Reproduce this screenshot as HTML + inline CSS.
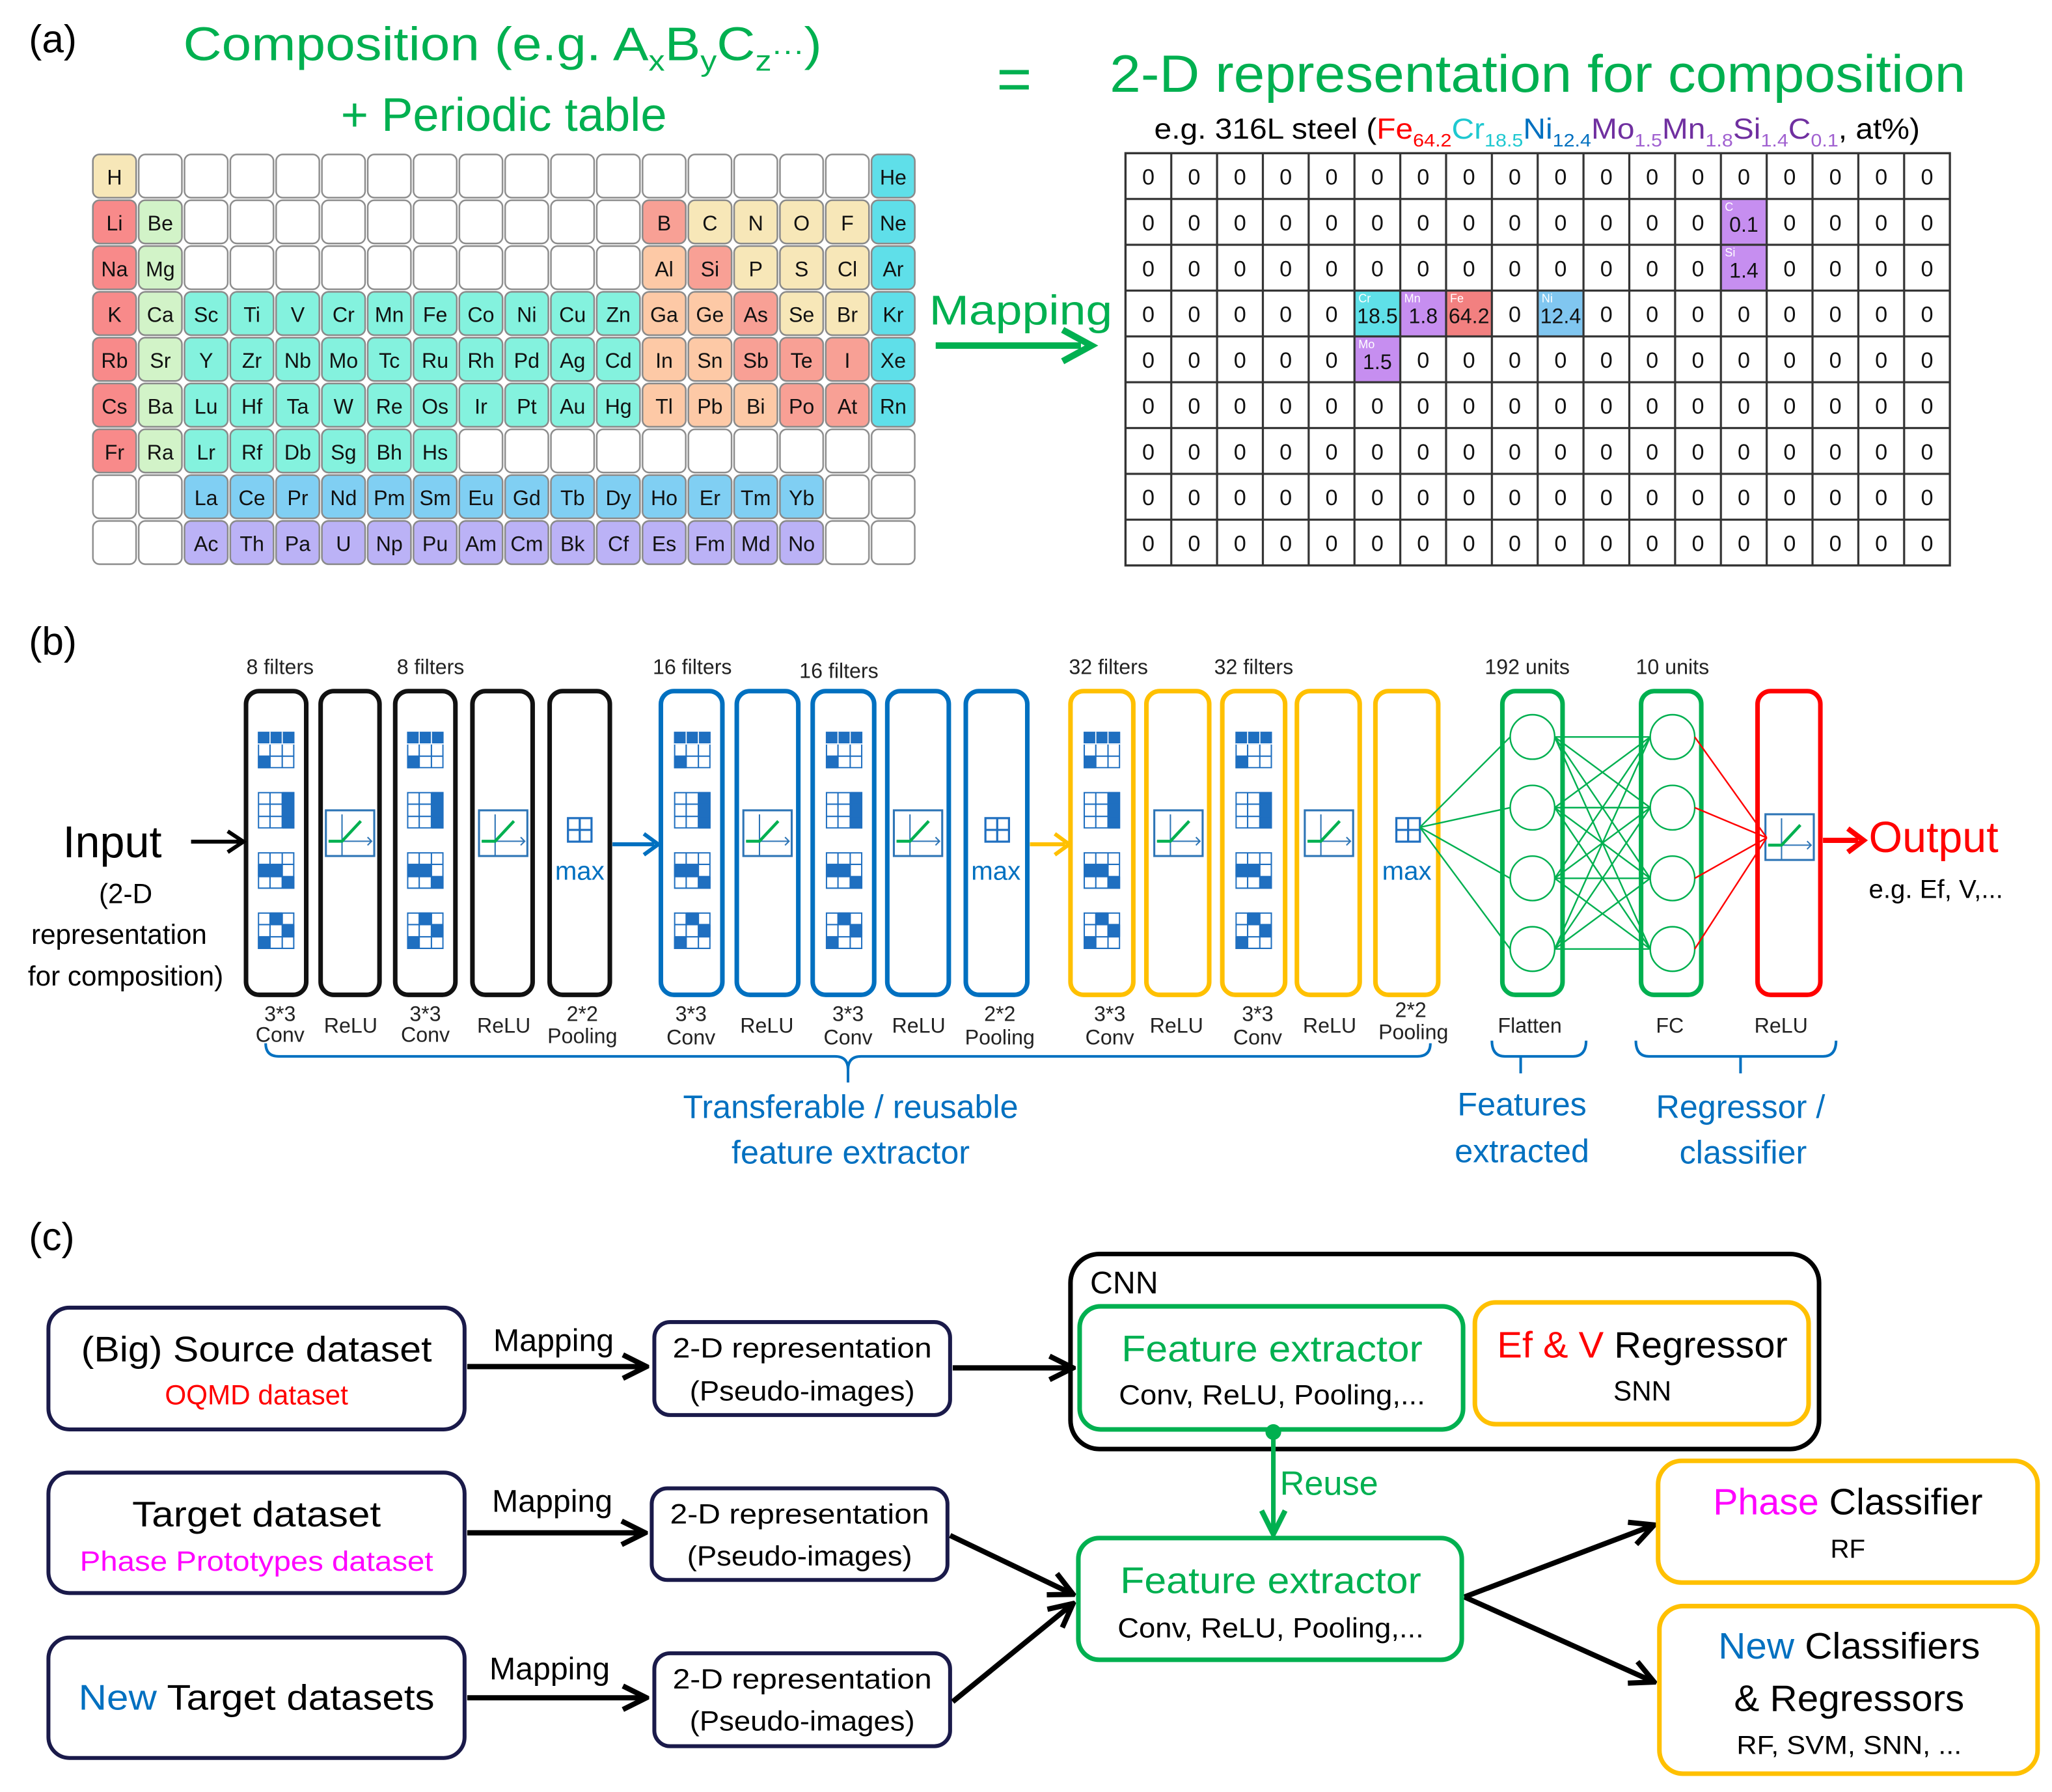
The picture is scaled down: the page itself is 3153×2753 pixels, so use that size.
<!DOCTYPE html>
<html><head><meta charset="utf-8"><style>
html,body{margin:0;padding:0;background:#fff;}
svg{display:block;}
text{font-family:"Liberation Sans",sans-serif;}
</style></head><body>
<svg width="3153" height="2753" viewBox="0 0 1568 1369" preserveAspectRatio="none" xmlns="http://www.w3.org/2000/svg">
<defs>
<pattern id="pc" width="35" height="35" patternUnits="userSpaceOnUse" x="70" y="117"><rect x="1" y="1" width="33" height="33" rx="5" fill="#fff" stroke="#8a8a8a" stroke-width="1.2"/></pattern>
<pattern id="gc" width="35" height="35" patternUnits="userSpaceOnUse" x="860" y="117"><rect x="0" y="0" width="35" height="35" fill="none" stroke="#333" stroke-width="1.6"/></pattern>
<symbol id="f1" viewBox="0 0 27 27"><rect x="0" y="0" width="27" height="9" fill="#1f6fc0"/><rect x="0" y="18" width="9" height="9" fill="#1f6fc0"/><path d="M0.5 0.5H26.5V26.5H0.5Z M9 0V27 M18 0V27 M0 9H27 M0 18H27" fill="none" stroke="#1f6fc0" stroke-width="1"/><path d="M9 0V9 M18 0V9 M0 9H27" stroke="#fff" stroke-width="0.8"/></symbol>
<symbol id="f2" viewBox="0 0 27 27"><rect x="18" y="0" width="9" height="27" fill="#1f6fc0"/><path d="M0.5 0.5H26.5V26.5H0.5Z M9 0V27 M18 0V27 M0 9H27 M0 18H27" fill="none" stroke="#1f6fc0" stroke-width="1"/></symbol>
<symbol id="f3" viewBox="0 0 27 27"><rect x="0" y="9" width="18" height="9" fill="#1f6fc0"/><rect x="18" y="18" width="9" height="9" fill="#1f6fc0"/><path d="M0.5 0.5H26.5V26.5H0.5Z M9 0V27 M18 0V27 M0 9H27 M0 18H27" fill="none" stroke="#1f6fc0" stroke-width="1"/></symbol>
<symbol id="f4" viewBox="0 0 27 27"><rect x="9" y="0" width="9" height="9" fill="#1f6fc0"/><rect x="18" y="9" width="9" height="9" fill="#1f6fc0"/><rect x="0" y="18" width="9" height="9" fill="#1f6fc0"/><path d="M0.5 0.5H26.5V26.5H0.5Z M9 0V27 M18 0V27 M0 9H27 M0 18H27" fill="none" stroke="#1f6fc0" stroke-width="1"/></symbol>
<symbol id="relu" viewBox="0 0 38 36"><rect x="1" y="1" width="36" height="34" fill="#fff" stroke="#2e75b6" stroke-width="1.5"/><path d="M13 4V35 M3 24H35 M32 21L35 24L32 27" fill="none" stroke="#2e75b6" stroke-width="1"/><path d="M3 24H13L27 9" fill="none" stroke="#00b050" stroke-width="2.2"/></symbol>
<symbol id="pool" viewBox="0 0 20 20"><path d="M1 1H19V19H1Z M10 1V19 M1 10H19" fill="none" stroke="#1f6fc0" stroke-width="1.6"/></symbol>
<marker id="ab" markerWidth="10" markerHeight="10" refX="9" refY="5" orient="auto" markerUnits="userSpaceOnUse" viewBox="0 0 10 10"><path d="M1 1L9 5L1 9" fill="none" stroke="#000" stroke-width="2"/></marker>
<marker id="ak" markerWidth="22" markerHeight="22" refX="20" refY="11" orient="auto" markerUnits="userSpaceOnUse" viewBox="0 0 22 22"><path d="M2 2L20 11L2 20" fill="none" stroke="#000" stroke-width="4"/></marker>
<marker id="ag" markerWidth="22" markerHeight="22" refX="20" refY="11" orient="auto" markerUnits="userSpaceOnUse" viewBox="0 0 22 22"><path d="M2 2L20 11L2 20" fill="none" stroke="#00b050" stroke-width="4"/></marker>
</defs>

<!-- ===== (a) ===== -->
<text x="22" y="40" font-size="30">(a)</text>
<text x="140" y="46" font-size="36" fill="#00b050" textLength="488" lengthAdjust="spacingAndGlyphs">Composition (e.g. A<tspan font-size="22" dy="8">x</tspan><tspan dy="-8">B</tspan><tspan font-size="22" dy="8">y</tspan><tspan dy="-8">C</tspan><tspan font-size="22" dy="8">z</tspan><tspan dy="-8" font-size="22">···</tspan>)</text>
<text x="385" y="100" font-size="36" fill="#00b050" text-anchor="middle">+ Periodic table</text>
<text x="775" y="76" font-size="46" fill="#00b050" text-anchor="middle">=</text>
<text x="848" y="70" font-size="40" fill="#00b050" textLength="654" lengthAdjust="spacingAndGlyphs">2-D representation for composition</text>
<text x="882" y="106" font-size="22" textLength="585" lengthAdjust="spacingAndGlyphs">e.g. 316L steel (<tspan fill="#ff0000">Fe</tspan><tspan fill="#ff0000" font-size="14" dy="6">64.2</tspan><tspan fill="#1ec8d0" dy="-6">Cr</tspan><tspan fill="#1ec8d0" font-size="14" dy="6">18.5</tspan><tspan fill="#0070c0" dy="-6">Ni</tspan><tspan fill="#0070c0" font-size="14" dy="6">12.4</tspan><tspan fill="#7030a0" dy="-6">Mo</tspan><tspan fill="#a060d0" font-size="14" dy="6">1.5</tspan><tspan fill="#7030a0" dy="-6">Mn</tspan><tspan fill="#a060d0" font-size="14" dy="6">1.8</tspan><tspan fill="#7030a0" dy="-6">Si</tspan><tspan fill="#a060d0" font-size="14" dy="6">1.4</tspan><tspan fill="#7030a0" dy="-6">C</tspan><tspan fill="#a060d0" font-size="14" dy="6">0.1</tspan><tspan dy="-6">, at%)</tspan></text>

<!-- periodic table -->
<rect x="70" y="117" width="630" height="315" fill="url(#pc)"/>
<g stroke="#8a8a8a" stroke-width="1.2">
<!-- beige -->
<g fill="#f7e7b8"><rect x="71" y="118" width="33" height="33" rx="5"/><rect x="526" y="153" width="33" height="33" rx="5"/><rect x="561" y="153" width="33" height="33" rx="5"/><rect x="596" y="153" width="33" height="33" rx="5"/><rect x="631" y="153" width="33" height="33" rx="5"/><rect x="561" y="188" width="33" height="33" rx="5"/><rect x="596" y="188" width="33" height="33" rx="5"/><rect x="631" y="188" width="33" height="33" rx="5"/><rect x="596" y="223" width="33" height="33" rx="5"/><rect x="631" y="223" width="33" height="33" rx="5"/></g>
<!-- noble -->
<g fill="#5fdfe9"><rect x="666" y="118" width="33" height="33" rx="5"/><rect x="666" y="153" width="33" height="33" rx="5"/><rect x="666" y="188" width="33" height="33" rx="5"/><rect x="666" y="223" width="33" height="33" rx="5"/><rect x="666" y="258" width="33" height="33" rx="5"/><rect x="666" y="293" width="33" height="33" rx="5"/></g>
<!-- alkali -->
<g fill="#f88a8a"><rect x="71" y="153" width="33" height="33" rx="5"/><rect x="71" y="188" width="33" height="33" rx="5"/><rect x="71" y="223" width="33" height="33" rx="5"/><rect x="71" y="258" width="33" height="33" rx="5"/><rect x="71" y="293" width="33" height="33" rx="5"/><rect x="71" y="328" width="33" height="33" rx="5"/></g>
<!-- alkaline earth -->
<g fill="#d2f3c8"><rect x="106" y="153" width="33" height="33" rx="5"/><rect x="106" y="188" width="33" height="33" rx="5"/><rect x="106" y="223" width="33" height="33" rx="5"/><rect x="106" y="258" width="33" height="33" rx="5"/><rect x="106" y="293" width="33" height="33" rx="5"/><rect x="106" y="328" width="33" height="33" rx="5"/></g>
<!-- salmon -->
<g fill="#f8a095"><rect x="491" y="153" width="33" height="33" rx="5"/><rect x="526" y="188" width="33" height="33" rx="5"/><rect x="561" y="223" width="33" height="33" rx="5"/><rect x="561" y="258" width="33" height="33" rx="5"/><rect x="596" y="258" width="33" height="33" rx="5"/><rect x="631" y="258" width="33" height="33" rx="5"/><rect x="596" y="293" width="33" height="33" rx="5"/><rect x="631" y="293" width="33" height="33" rx="5"/></g>
<!-- peach -->
<g fill="#fdc9a6"><rect x="491" y="188" width="33" height="33" rx="5"/><rect x="491" y="223" width="33" height="33" rx="5"/><rect x="526" y="223" width="33" height="33" rx="5"/><rect x="491" y="258" width="33" height="33" rx="5"/><rect x="526" y="258" width="33" height="33" rx="5"/><rect x="491" y="293" width="33" height="33" rx="5"/><rect x="526" y="293" width="33" height="33" rx="5"/><rect x="561" y="293" width="33" height="33" rx="5"/></g>
</g>
<!-- transition rows -->
<g fill="#84f2de" stroke="#8a8a8a" stroke-width="1.2">
<rect x="141" y="223" width="348" height="33" rx="5" fill="none" stroke="none"/>
</g>
<g stroke="#8a8a8a" stroke-width="1.2" fill="#84f2de">
<rect x="141" y="223" width="33" height="33" rx="5"/><rect x="176" y="223" width="33" height="33" rx="5"/><rect x="211" y="223" width="33" height="33" rx="5"/><rect x="246" y="223" width="33" height="33" rx="5"/><rect x="281" y="223" width="33" height="33" rx="5"/><rect x="316" y="223" width="33" height="33" rx="5"/><rect x="351" y="223" width="33" height="33" rx="5"/><rect x="386" y="223" width="33" height="33" rx="5"/><rect x="421" y="223" width="33" height="33" rx="5"/><rect x="456" y="223" width="33" height="33" rx="5"/>
<rect x="141" y="258" width="33" height="33" rx="5"/><rect x="176" y="258" width="33" height="33" rx="5"/><rect x="211" y="258" width="33" height="33" rx="5"/><rect x="246" y="258" width="33" height="33" rx="5"/><rect x="281" y="258" width="33" height="33" rx="5"/><rect x="316" y="258" width="33" height="33" rx="5"/><rect x="351" y="258" width="33" height="33" rx="5"/><rect x="386" y="258" width="33" height="33" rx="5"/><rect x="421" y="258" width="33" height="33" rx="5"/><rect x="456" y="258" width="33" height="33" rx="5"/>
<rect x="141" y="293" width="33" height="33" rx="5"/><rect x="176" y="293" width="33" height="33" rx="5"/><rect x="211" y="293" width="33" height="33" rx="5"/><rect x="246" y="293" width="33" height="33" rx="5"/><rect x="281" y="293" width="33" height="33" rx="5"/><rect x="316" y="293" width="33" height="33" rx="5"/><rect x="351" y="293" width="33" height="33" rx="5"/><rect x="386" y="293" width="33" height="33" rx="5"/><rect x="421" y="293" width="33" height="33" rx="5"/><rect x="456" y="293" width="33" height="33" rx="5"/>
<rect x="141" y="328" width="33" height="33" rx="5"/><rect x="176" y="328" width="33" height="33" rx="5"/><rect x="211" y="328" width="33" height="33" rx="5"/><rect x="246" y="328" width="33" height="33" rx="5"/><rect x="281" y="328" width="33" height="33" rx="5"/><rect x="316" y="328" width="33" height="33" rx="5"/>
</g>
<g stroke="#8a8a8a" stroke-width="1.2" fill="#80cff3">
<rect x="141" y="363" width="33" height="33" rx="5"/><rect x="176" y="363" width="33" height="33" rx="5"/><rect x="211" y="363" width="33" height="33" rx="5"/><rect x="246" y="363" width="33" height="33" rx="5"/><rect x="281" y="363" width="33" height="33" rx="5"/><rect x="316" y="363" width="33" height="33" rx="5"/><rect x="351" y="363" width="33" height="33" rx="5"/><rect x="386" y="363" width="33" height="33" rx="5"/><rect x="421" y="363" width="33" height="33" rx="5"/><rect x="456" y="363" width="33" height="33" rx="5"/><rect x="491" y="363" width="33" height="33" rx="5"/><rect x="526" y="363" width="33" height="33" rx="5"/><rect x="561" y="363" width="33" height="33" rx="5"/><rect x="596" y="363" width="33" height="33" rx="5"/>
</g>
<g stroke="#8a8a8a" stroke-width="1.2" fill="#bbb2f6">
<rect x="141" y="398" width="33" height="33" rx="5"/><rect x="176" y="398" width="33" height="33" rx="5"/><rect x="211" y="398" width="33" height="33" rx="5"/><rect x="246" y="398" width="33" height="33" rx="5"/><rect x="281" y="398" width="33" height="33" rx="5"/><rect x="316" y="398" width="33" height="33" rx="5"/><rect x="351" y="398" width="33" height="33" rx="5"/><rect x="386" y="398" width="33" height="33" rx="5"/><rect x="421" y="398" width="33" height="33" rx="5"/><rect x="456" y="398" width="33" height="33" rx="5"/><rect x="491" y="398" width="33" height="33" rx="5"/><rect x="526" y="398" width="33" height="33" rx="5"/><rect x="561" y="398" width="33" height="33" rx="5"/><rect x="596" y="398" width="33" height="33" rx="5"/>
</g>
<g font-size="16" text-anchor="middle" fill="#111">
<text x="87.5" y="141">H</text><text x="682.5" y="141">He</text>
<text x="87.5" y="176">Li</text><text x="122.5" y="176">Be</text><text x="507.5" y="176">B</text><text x="542.5" y="176">C</text><text x="577.5" y="176">N</text><text x="612.5" y="176">O</text><text x="647.5" y="176">F</text><text x="682.5" y="176">Ne</text>
<text x="87.5" y="211">Na</text><text x="122.5" y="211">Mg</text><text x="507.5" y="211">Al</text><text x="542.5" y="211">Si</text><text x="577.5" y="211">P</text><text x="612.5" y="211">S</text><text x="647.5" y="211">Cl</text><text x="682.5" y="211">Ar</text>
<text x="87.5" y="246">K</text><text x="122.5" y="246">Ca</text><text x="157.5" y="246">Sc</text><text x="192.5" y="246">Ti</text><text x="227.5" y="246">V</text><text x="262.5" y="246">Cr</text><text x="297.5" y="246">Mn</text><text x="332.5" y="246">Fe</text><text x="367.5" y="246">Co</text><text x="402.5" y="246">Ni</text><text x="437.5" y="246">Cu</text><text x="472.5" y="246">Zn</text><text x="507.5" y="246">Ga</text><text x="542.5" y="246">Ge</text><text x="577.5" y="246">As</text><text x="612.5" y="246">Se</text><text x="647.5" y="246">Br</text><text x="682.5" y="246">Kr</text>
<text x="87.5" y="281">Rb</text><text x="122.5" y="281">Sr</text><text x="157.5" y="281">Y</text><text x="192.5" y="281">Zr</text><text x="227.5" y="281">Nb</text><text x="262.5" y="281">Mo</text><text x="297.5" y="281">Tc</text><text x="332.5" y="281">Ru</text><text x="367.5" y="281">Rh</text><text x="402.5" y="281">Pd</text><text x="437.5" y="281">Ag</text><text x="472.5" y="281">Cd</text><text x="507.5" y="281">In</text><text x="542.5" y="281">Sn</text><text x="577.5" y="281">Sb</text><text x="612.5" y="281">Te</text><text x="647.5" y="281">I</text><text x="682.5" y="281">Xe</text>
<text x="87.5" y="316">Cs</text><text x="122.5" y="316">Ba</text><text x="157.5" y="316">Lu</text><text x="192.5" y="316">Hf</text><text x="227.5" y="316">Ta</text><text x="262.5" y="316">W</text><text x="297.5" y="316">Re</text><text x="332.5" y="316">Os</text><text x="367.5" y="316">Ir</text><text x="402.5" y="316">Pt</text><text x="437.5" y="316">Au</text><text x="472.5" y="316">Hg</text><text x="507.5" y="316">Tl</text><text x="542.5" y="316">Pb</text><text x="577.5" y="316">Bi</text><text x="612.5" y="316">Po</text><text x="647.5" y="316">At</text><text x="682.5" y="316">Rn</text>
<text x="87.5" y="351">Fr</text><text x="122.5" y="351">Ra</text><text x="157.5" y="351">Lr</text><text x="192.5" y="351">Rf</text><text x="227.5" y="351">Db</text><text x="262.5" y="351">Sg</text><text x="297.5" y="351">Bh</text><text x="332.5" y="351">Hs</text>
<text x="157.5" y="386">La</text><text x="192.5" y="386">Ce</text><text x="227.5" y="386">Pr</text><text x="262.5" y="386">Nd</text><text x="297.5" y="386">Pm</text><text x="332.5" y="386">Sm</text><text x="367.5" y="386">Eu</text><text x="402.5" y="386">Gd</text><text x="437.5" y="386">Tb</text><text x="472.5" y="386">Dy</text><text x="507.5" y="386">Ho</text><text x="542.5" y="386">Er</text><text x="577.5" y="386">Tm</text><text x="612.5" y="386">Yb</text>
<text x="157.5" y="421">Ac</text><text x="192.5" y="421">Th</text><text x="227.5" y="421">Pa</text><text x="262.5" y="421">U</text><text x="297.5" y="421">Np</text><text x="332.5" y="421">Pu</text><text x="367.5" y="421">Am</text><text x="402.5" y="421">Cm</text><text x="437.5" y="421">Bk</text><text x="472.5" y="421">Cf</text><text x="507.5" y="421">Es</text><text x="542.5" y="421">Fm</text><text x="577.5" y="421">Md</text><text x="612.5" y="421">No</text>
</g>

<!-- mapping arrow -->
<text x="710" y="248" font-size="32" fill="#00b050" textLength="140" lengthAdjust="spacingAndGlyphs">Mapping</text>
<line x1="715" y1="264" x2="826" y2="264" stroke="#00b050" stroke-width="5"/>
<path d="M812 252L834 264L812 276" fill="none" stroke="#00b050" stroke-width="5"/>

<!-- grid -->
<rect x="1315" y="152" width="35" height="70" fill="#c68ef0"/>
<rect x="1035" y="222" width="35" height="35" fill="#5fe0e8"/>
<rect x="1070" y="222" width="35" height="35" fill="#c68ef0"/>
<rect x="1105" y="222" width="35" height="35" fill="#f28080"/>
<rect x="1175" y="222" width="35" height="35" fill="#80c6f0"/>
<rect x="1035" y="257" width="35" height="35" fill="#c68ef0"/>
<rect x="860" y="117" width="630" height="315" fill="url(#gc)" stroke="#333" stroke-width="1.6"/>
<g font-size="9" fill="#fff"><text x="1318" y="161">C</text><text x="1318" y="196">Si</text><text x="1038" y="231">Cr</text><text x="1073" y="231">Mn</text><text x="1108" y="231">Fe</text><text x="1178" y="231">Ni</text><text x="1038" y="266">Mo</text></g>
<g font-size="17" text-anchor="middle" fill="#111">
<text x="877.5 912.5 947.5 982.5 1017.5 1052.5 1087.5 1122.5 1157.5 1192.5 1227.5 1262.5 1297.5 1332.5 1367.5 1402.5 1437.5 1472.5" y="141">000000000000000000</text>
<text x="877.5 912.5 947.5 982.5 1017.5 1052.5 1087.5 1122.5 1157.5 1192.5 1227.5 1262.5 1297.5 1367.5 1402.5 1437.5 1472.5" y="176">00000000000000000</text>
<text x="877.5 912.5 947.5 982.5 1017.5 1052.5 1087.5 1122.5 1157.5 1192.5 1227.5 1262.5 1297.5 1367.5 1402.5 1437.5 1472.5" y="211">00000000000000000</text>
<text x="877.5 912.5 947.5 982.5 1017.5 1157.5 1227.5 1262.5 1297.5 1332.5 1367.5 1402.5 1437.5 1472.5" y="246">00000000000000</text>
<text x="877.5 912.5 947.5 982.5 1017.5 1087.5 1122.5 1157.5 1192.5 1227.5 1262.5 1297.5 1332.5 1367.5 1402.5 1437.5 1472.5" y="281">00000000000000000</text>
<text x="877.5 912.5 947.5 982.5 1017.5 1052.5 1087.5 1122.5 1157.5 1192.5 1227.5 1262.5 1297.5 1332.5 1367.5 1402.5 1437.5 1472.5" y="316">000000000000000000</text>
<text x="877.5 912.5 947.5 982.5 1017.5 1052.5 1087.5 1122.5 1157.5 1192.5 1227.5 1262.5 1297.5 1332.5 1367.5 1402.5 1437.5 1472.5" y="351">000000000000000000</text>
<text x="877.5 912.5 947.5 982.5 1017.5 1052.5 1087.5 1122.5 1157.5 1192.5 1227.5 1262.5 1297.5 1332.5 1367.5 1402.5 1437.5 1472.5" y="386">000000000000000000</text>
<text x="877.5 912.5 947.5 982.5 1017.5 1052.5 1087.5 1122.5 1157.5 1192.5 1227.5 1262.5 1297.5 1332.5 1367.5 1402.5 1437.5 1472.5" y="421">000000000000000000</text>
</g>
<g font-size="16" text-anchor="middle" fill="#111">
<text x="1332.5" y="177">0.1</text><text x="1332.5" y="212">1.4</text>
<text x="1052.5" y="247">18.5</text><text x="1087.5" y="247">1.8</text><text x="1122.5" y="247">64.2</text><text x="1192.5" y="247">12.4</text>
<text x="1052.5" y="282">1.5</text>
</g>

<!-- ===== (b) ===== -->
<text x="22" y="500" font-size="30">(b)</text>
<g font-size="16" text-anchor="middle" fill="#222">
<text x="214" y="515">8 filters</text><text x="329" y="515">8 filters</text><text x="529" y="515">16 filters</text><text x="641" y="518">16 filters</text><text x="847" y="515">32 filters</text><text x="958" y="515">32 filters</text><text x="1167" y="515">192 units</text><text x="1278" y="515">10 units</text>
</g>
<g fill="none" stroke-width="3.5">
<g stroke="#111"><rect x="188" y="528" width="46" height="232" rx="10"/><rect x="245" y="528" width="45" height="232" rx="10"/><rect x="302" y="528" width="46" height="232" rx="10"/><rect x="361" y="528" width="46" height="232" rx="10"/><rect x="420" y="528" width="46" height="232" rx="10"/></g>
<g stroke="#0070c0"><rect x="505" y="528" width="47" height="232" rx="10"/><rect x="563" y="528" width="47" height="232" rx="10"/><rect x="621" y="528" width="47" height="232" rx="10"/><rect x="678" y="528" width="47" height="232" rx="10"/><rect x="738" y="528" width="47" height="232" rx="10"/></g>
<g stroke="#ffc000"><rect x="818" y="528" width="48" height="232" rx="10"/><rect x="876" y="528" width="48" height="232" rx="10"/><rect x="934" y="528" width="48" height="232" rx="10"/><rect x="991" y="528" width="48" height="232" rx="10"/><rect x="1051" y="528" width="48" height="232" rx="10"/></g>
<g stroke="#00b050"><rect x="1148" y="528" width="46" height="232" rx="10"/><rect x="1254" y="528" width="46" height="232" rx="10"/></g>
<rect x="1343" y="528" width="48" height="232" rx="10" stroke="#ff0000"/>
</g>
<!-- conv icons -->
<g>
<use href="#f1" x="197" y="559" width="28" height="28"/><use href="#f2" x="197" y="605" width="28" height="28"/><use href="#f3" x="197" y="651" width="28" height="28"/><use href="#f4" x="197" y="697" width="28" height="28"/>
<use href="#f1" x="311" y="559" width="28" height="28"/><use href="#f2" x="311" y="605" width="28" height="28"/><use href="#f3" x="311" y="651" width="28" height="28"/><use href="#f4" x="311" y="697" width="28" height="28"/>
<use href="#f1" x="515" y="559" width="28" height="28"/><use href="#f2" x="515" y="605" width="28" height="28"/><use href="#f3" x="515" y="651" width="28" height="28"/><use href="#f4" x="515" y="697" width="28" height="28"/>
<use href="#f1" x="631" y="559" width="28" height="28"/><use href="#f2" x="631" y="605" width="28" height="28"/><use href="#f3" x="631" y="651" width="28" height="28"/><use href="#f4" x="631" y="697" width="28" height="28"/>
<use href="#f1" x="828" y="559" width="28" height="28"/><use href="#f2" x="828" y="605" width="28" height="28"/><use href="#f3" x="828" y="651" width="28" height="28"/><use href="#f4" x="828" y="697" width="28" height="28"/>
<use href="#f1" x="944" y="559" width="28" height="28"/><use href="#f2" x="944" y="605" width="28" height="28"/><use href="#f3" x="944" y="651" width="28" height="28"/><use href="#f4" x="944" y="697" width="28" height="28"/>
</g>
<g>
<use href="#relu" x="248" y="618" width="39" height="37"/><use href="#relu" x="365" y="618" width="39" height="37"/>
<use href="#relu" x="567" y="618" width="39" height="37"/><use href="#relu" x="682" y="618" width="39" height="37"/>
<use href="#relu" x="881" y="618" width="39" height="37"/><use href="#relu" x="996" y="618" width="39" height="37"/>
<use href="#relu" x="1348" y="621" width="39" height="37"/>
</g>
<g>
<use href="#pool" x="433" y="624" width="20" height="20"/><use href="#pool" x="752" y="624" width="20" height="20"/><use href="#pool" x="1066" y="624" width="20" height="20"/>
</g>
<g font-size="20" fill="#0070c0" text-anchor="middle"><text x="443" y="672">max</text><text x="761" y="672">max</text><text x="1075" y="672">max</text></g>
<!-- nn -->
<g stroke="#00b050" stroke-width="1.2" fill="none">
<line x1="1085" y1="632" x2="1154" y2="563"/><line x1="1085" y1="632" x2="1154" y2="617"/><line x1="1085" y1="632" x2="1154" y2="671"/><line x1="1085" y1="632" x2="1154" y2="725"/>
<line x1="1188" y1="563" x2="1261" y2="563"/><line x1="1188" y1="563" x2="1261" y2="617"/><line x1="1188" y1="563" x2="1261" y2="671"/><line x1="1188" y1="563" x2="1261" y2="725"/>
<line x1="1188" y1="617" x2="1261" y2="563"/><line x1="1188" y1="617" x2="1261" y2="617"/><line x1="1188" y1="617" x2="1261" y2="671"/><line x1="1188" y1="617" x2="1261" y2="725"/>
<line x1="1188" y1="671" x2="1261" y2="563"/><line x1="1188" y1="671" x2="1261" y2="617"/><line x1="1188" y1="671" x2="1261" y2="671"/><line x1="1188" y1="671" x2="1261" y2="725"/>
<line x1="1188" y1="725" x2="1261" y2="563"/><line x1="1188" y1="725" x2="1261" y2="617"/><line x1="1188" y1="725" x2="1261" y2="671"/><line x1="1188" y1="725" x2="1261" y2="725"/>
<ellipse cx="1171" cy="563" rx="17" ry="17"/><ellipse cx="1171" cy="617" rx="17" ry="17"/><ellipse cx="1171" cy="671" rx="17" ry="17"/><ellipse cx="1171" cy="725" rx="17" ry="17"/>
<ellipse cx="1278" cy="563" rx="17" ry="17"/><ellipse cx="1278" cy="617" rx="17" ry="17"/><ellipse cx="1278" cy="671" rx="17" ry="17"/><ellipse cx="1278" cy="725" rx="17" ry="17"/>
</g>
<g stroke="#ff0000" stroke-width="1.2"><line x1="1295" y1="563" x2="1350" y2="640"/><line x1="1295" y1="617" x2="1350" y2="640"/><line x1="1295" y1="671" x2="1350" y2="640"/><line x1="1295" y1="725" x2="1350" y2="640"/></g>
<!-- input / output -->
<text x="48" y="655" font-size="34">Input</text>
<line x1="146" y1="643" x2="184" y2="643" stroke="#000" stroke-width="3"/><path d="M174 635L186 643L174 651" fill="none" stroke="#000" stroke-width="3"/>
<g font-size="21" text-anchor="middle"><text x="96" y="690">(2-D</text><text x="91" y="721">representation</text><text x="96" y="753">for composition)</text></g>
<line x1="468" y1="645" x2="500" y2="645" stroke="#0070c0" stroke-width="3"/><path d="M492 637L503 645L492 653" fill="none" stroke="#0070c0" stroke-width="3"/>
<line x1="787" y1="645" x2="814" y2="645" stroke="#ffc000" stroke-width="3"/><path d="M806 637L817 645L806 653" fill="none" stroke="#ffc000" stroke-width="3"/>
<line x1="1393" y1="642" x2="1420" y2="642" stroke="#ff0000" stroke-width="4"/><path d="M1412 633L1424 642L1412 651" fill="none" stroke="#ff0000" stroke-width="4"/>
<text x="1428" y="651" font-size="33" fill="#ff0000">Output</text>
<text x="1428" y="686" font-size="20">e.g. Ef, V,...</text>
<!-- bottom labels -->
<g font-size="16" text-anchor="middle" fill="#222">
<text x="214" y="780">3*3</text><text x="214" y="796">Conv</text><text x="268" y="789">ReLU</text>
<text x="325" y="780">3*3</text><text x="325" y="796">Conv</text><text x="385" y="789">ReLU</text>
<text x="445" y="780">2*2</text><text x="445" y="797">Pooling</text>
<text x="528" y="780">3*3</text><text x="528" y="798">Conv</text><text x="586" y="789">ReLU</text>
<text x="648" y="780">3*3</text><text x="648" y="798">Conv</text><text x="702" y="789">ReLU</text>
<text x="764" y="780">2*2</text><text x="764" y="798">Pooling</text>
<text x="848" y="780">3*3</text><text x="848" y="798">Conv</text><text x="899" y="789">ReLU</text>
<text x="961" y="780">3*3</text><text x="961" y="798">Conv</text><text x="1016" y="789">ReLU</text>
<text x="1078" y="777">2*2</text><text x="1080" y="794">Pooling</text>
<text x="1169" y="789">Flatten</text><text x="1276" y="789">FC</text><text x="1361" y="789">ReLU</text>
</g>
<g fill="none" stroke="#0070c0" stroke-width="2">
<path d="M203 797Q203 807 213 807H638Q648 807 648 817V827M648 817Q648 807 658 807H1083Q1093 807 1093 797"/>
<path d="M1140 795Q1140 807 1150 807H1162V820M1162 807H1202Q1212 807 1212 795"/>
<path d="M1250 795Q1250 807 1260 807H1330V820M1330 807H1393Q1403 807 1403 795"/>
</g>
<g font-size="25" fill="#0070c0" text-anchor="middle">
<text x="650" y="854">Transferable / reusable</text><text x="650" y="889">feature extractor</text>
<text x="1163" y="852">Features</text><text x="1163" y="888">extracted</text>
<text x="1330" y="854">Regressor /</text><text x="1332" y="889">classifier</text>
</g>

<!-- ===== (c) ===== -->
<text x="22" y="955" font-size="30">(c)</text>
<g fill="none" stroke="#1a1a4a" stroke-width="3">
<rect x="37" y="999" width="318" height="93" rx="16"/><rect x="37" y="1125" width="318" height="92" rx="16"/><rect x="37" y="1251" width="318" height="92" rx="16"/>
<rect x="500" y="1010" width="226" height="71" rx="12"/><rect x="498" y="1137" width="226" height="70" rx="12"/><rect x="500" y="1263" width="226" height="71" rx="12"/>
</g>
<g text-anchor="middle">
<text x="196" y="1040" font-size="27" textLength="268" lengthAdjust="spacingAndGlyphs">(Big) Source dataset</text>
<text x="196" y="1073" font-size="21" fill="#ff0000">OQMD dataset</text>
<text x="196" y="1166" font-size="27" textLength="190" lengthAdjust="spacingAndGlyphs">Target dataset</text>
<text x="196" y="1200" font-size="21" fill="#ff00ff" textLength="270" lengthAdjust="spacingAndGlyphs">Phase Prototypes dataset</text>
<text x="196" y="1306" font-size="27" textLength="272" lengthAdjust="spacingAndGlyphs"><tspan fill="#0070c0">New</tspan> Target datasets</text>
<g font-size="21"><text x="613" y="1037" textLength="198" lengthAdjust="spacingAndGlyphs">2-D representation</text><text x="613" y="1070" textLength="172" lengthAdjust="spacingAndGlyphs">(Pseudo-images)</text>
<text x="611" y="1164" textLength="198" lengthAdjust="spacingAndGlyphs">2-D representation</text><text x="611" y="1196" textLength="172" lengthAdjust="spacingAndGlyphs">(Pseudo-images)</text>
<text x="613" y="1290" textLength="198" lengthAdjust="spacingAndGlyphs">2-D representation</text><text x="613" y="1322" textLength="172" lengthAdjust="spacingAndGlyphs">(Pseudo-images)</text></g>
<g font-size="24"><text x="423" y="1032">Mapping</text><text x="422" y="1155">Mapping</text><text x="420" y="1283">Mapping</text></g>
</g>
<g stroke="#000" stroke-width="4" fill="none">
<line x1="357" y1="1044" x2="494" y2="1044" marker-end="url(#ak)"/>
<line x1="357" y1="1171" x2="493" y2="1171" marker-end="url(#ak)"/>
<line x1="357" y1="1297" x2="494" y2="1297" marker-end="url(#ak)"/>
<line x1="728" y1="1045" x2="820" y2="1045" marker-end="url(#ak)"/>
<line x1="726" y1="1173" x2="820" y2="1218" marker-end="url(#ak)"/>
<line x1="728" y1="1300" x2="820" y2="1225" marker-end="url(#ak)"/>
<line x1="1119" y1="1220" x2="1264" y2="1165" marker-end="url(#ak)"/>
<line x1="1119" y1="1220" x2="1264" y2="1285" marker-end="url(#ak)"/>
</g>
<rect x="818" y="958" width="572" height="149" rx="22" fill="none" stroke="#000" stroke-width="3.5"/>
<text x="833" y="988" font-size="24">CNN</text>
<g fill="none" stroke-width="3.5">
<rect x="825" y="998" width="293" height="94" rx="16" stroke="#00b050"/>
<rect x="1127" y="995" width="255" height="93" rx="16" stroke="#ffc000"/>
<rect x="824" y="1175" width="293" height="93" rx="16" stroke="#00b050"/>
<rect x="1267" y="1116" width="290" height="93" rx="18" stroke="#ffc000"/>
<rect x="1268" y="1227" width="289" height="128" rx="18" stroke="#ffc000"/>
</g>
<circle cx="973" cy="1094" r="6" fill="#00b050"/>
<line x1="973" y1="1094" x2="973" y2="1172" stroke="#00b050" stroke-width="3.5" marker-end="url(#ag)"/>
<text x="978" y="1142" font-size="26" fill="#00b050">Reuse</text>
<g text-anchor="middle">
<text x="972" y="1040" font-size="28" fill="#00b050" textLength="230" lengthAdjust="spacingAndGlyphs">Feature extractor</text>
<text x="972" y="1073" font-size="21" textLength="234" lengthAdjust="spacingAndGlyphs">Conv, ReLU, Pooling,...</text>
<text x="1255" y="1037" font-size="28" textLength="222" lengthAdjust="spacingAndGlyphs"><tspan fill="#ff0000">Ef &amp; V</tspan> Regressor</text>
<text x="1255" y="1070" font-size="21">SNN</text>
<text x="971" y="1217" font-size="28" fill="#00b050" textLength="230" lengthAdjust="spacingAndGlyphs">Feature extractor</text>
<text x="971" y="1251" font-size="21" textLength="234" lengthAdjust="spacingAndGlyphs">Conv, ReLU, Pooling,...</text>
<text x="1412" y="1157" font-size="28" textLength="206" lengthAdjust="spacingAndGlyphs"><tspan fill="#ff00ff">Phase</tspan> Classifier</text>
<text x="1412" y="1190" font-size="20">RF</text>
<text x="1413" y="1267" font-size="28" textLength="200" lengthAdjust="spacingAndGlyphs"><tspan fill="#0070c0">New</tspan> Classifiers</text>
<text x="1413" y="1307" font-size="28" textLength="176" lengthAdjust="spacingAndGlyphs">&amp; Regressors</text>
<text x="1413" y="1340" font-size="20" textLength="172" lengthAdjust="spacingAndGlyphs">RF, SVM, SNN, ...</text>
</g>
</svg>
</body></html>
